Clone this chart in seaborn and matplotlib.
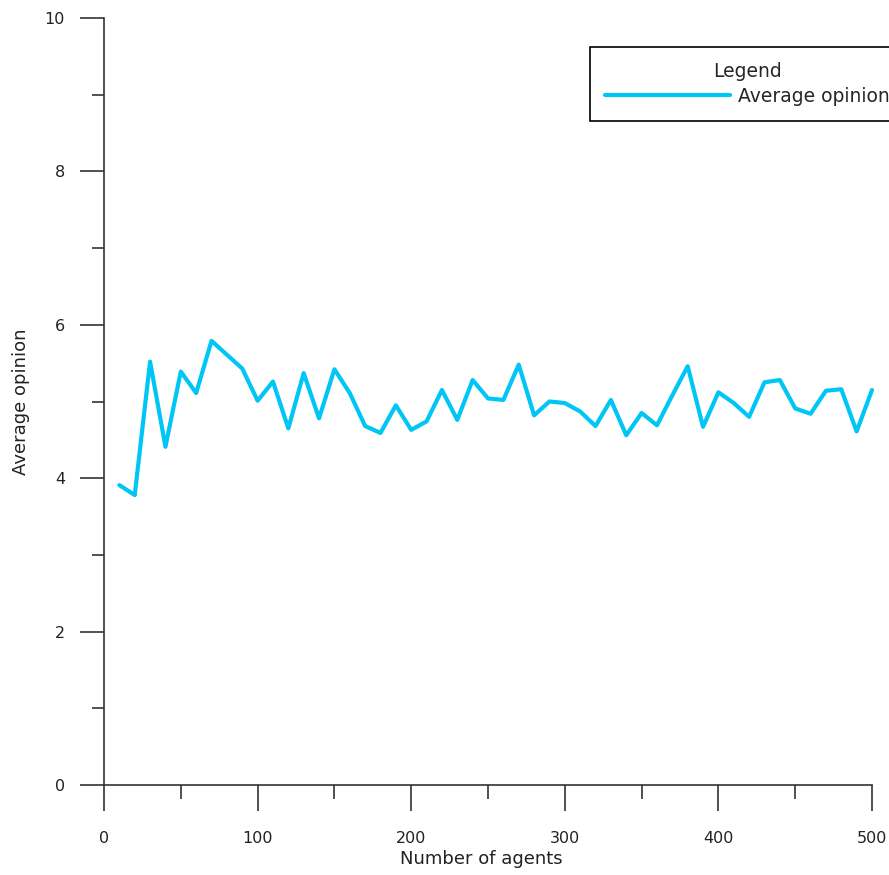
import matplotlib
matplotlib.use("Agg")
import matplotlib.pyplot as plt
import seaborn as sns
import pandas as pd
from matplotlib.ticker import MultipleLocator

agents = [10, 20, 30, 40, 50, 60, 70, 80, 90, 100,
          110, 120, 130, 140, 150, 160, 170, 180, 190, 200,
          210, 220, 230, 240, 250, 260, 270, 280, 290, 300,
          310, 320, 330, 340, 350, 360, 370, 380, 390, 400,
          410, 420, 430, 440, 450, 460, 470, 480, 490, 500]
avg_opinion = [3.91, 3.78, 5.52, 4.41, 5.39, 5.11, 5.79, 5.61, 5.43, 5.01,
               5.26, 4.65, 5.37, 4.78, 5.42, 5.11, 4.68, 4.59, 4.95, 4.63,
               4.74, 5.15, 4.76, 5.28, 5.04, 5.02, 5.48, 4.82, 5.00, 4.98,
               4.87, 4.68, 5.02, 4.56, 4.85, 4.69, 5.08, 5.46, 4.67, 5.12,
               4.98, 4.80, 5.25, 5.28, 4.91, 4.84, 5.14, 5.16, 4.61, 5.15]
series_name = "Average opinion"

df = pd.DataFrame({"agents": agents, "opinion": avg_opinion, "series": series_name})

sns.set_theme(style="ticks")
plt.rcParams['font.family'] = ['DejaVu Sans']

fig = plt.figure(figsize=(8.89, 8.75), dpi=100)
ax = fig.add_axes([104/889, 90/875, (872-104)/889, (785-18)/875])

sns.lineplot(data=df, x="agents", y="opinion", hue="series",
             palette=["#00c6f6"], linewidth=3.0, ax=ax)
for ln in ax.get_lines():
    ln.set_clip_on(False)

ax.set_xlim(0, 500)
ax.set_ylim(0, 10)
ax.xaxis.set_major_locator(MultipleLocator(100))
ax.xaxis.set_minor_locator(MultipleLocator(50))
ax.yaxis.set_major_locator(MultipleLocator(2))
ax.yaxis.set_minor_locator(MultipleLocator(1))
ax.tick_params(which="both", direction="out", width=1.2,
               color="#333333", labelsize=11.5, labelcolor="#222222")
ax.tick_params(axis="x", which="major", length=19, pad=14)
ax.tick_params(axis="y", which="major", length=17, pad=11)
ax.tick_params(axis="x", which="minor", length=10)
ax.tick_params(axis="y", which="minor", length=8.6)

for s in ["top", "right"]:
    ax.spines[s].set_visible(False)
for s in ["left", "bottom"]:
    ax.spines[s].set_color("#333333")
    ax.spines[s].set_linewidth(1.2)

ax.set_xlabel("Number of agents", fontsize=13, color="#222222")
ax.set_ylabel("Average opinion", fontsize=13, color="#222222")
ax.xaxis.set_label_coords(0.491, -0.085)
ax.yaxis.set_label_coords(-0.097, 0.5)

leg = ax.legend(title="Legend", loc="upper left",
                bbox_to_anchor=(590/889, 1 - 47/875), bbox_transform=fig.transFigure,
                fontsize=13.5, title_fontsize=13.5, frameon=True, fancybox=False,
                handlelength=6.67, handletextpad=0.43, borderpad=0.8,
                labelspacing=0.31, borderaxespad=0, framealpha=1)
leg.get_frame().set_edgecolor("black")
leg.get_frame().set_linewidth(1.2)
leg.set_clip_on(False)
for h in leg.get_lines():
    h.set_linewidth(3.0)

fig.savefig("out.png", dpi=100)
